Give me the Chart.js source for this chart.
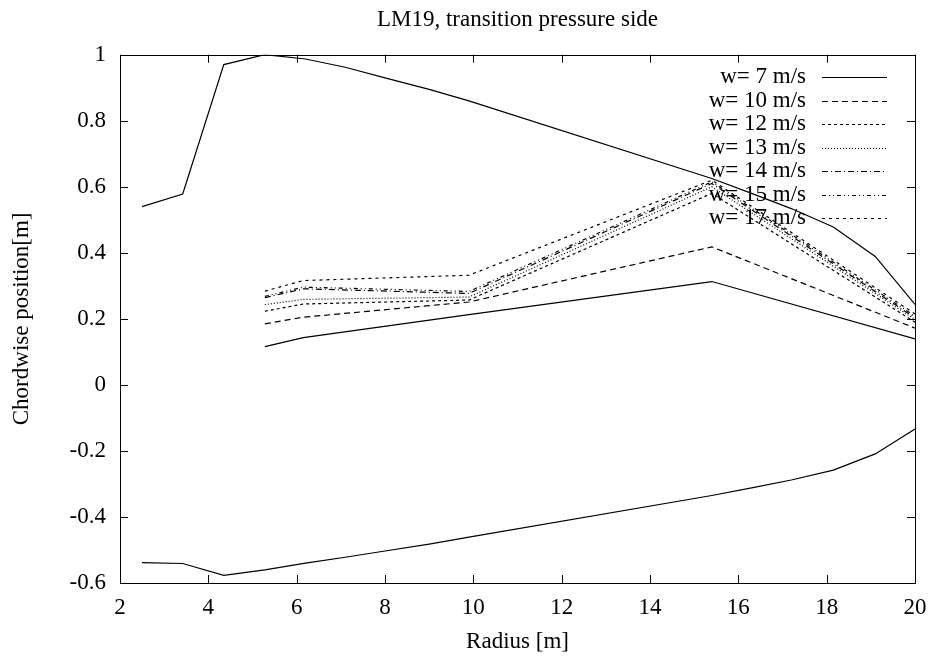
<!DOCTYPE html>
<html>
<head>
<meta charset="utf-8">
<script src="https://cdn.jsdelivr.net/npm/chart.js@4"></script>
<style>
  html, body { margin: 0; padding: 0; background: #fff; }
  #plot { display: block; }
</style>
</head>
<body>
<canvas id="plot" width="931" height="660"></canvas>
<script>
// ---------- data ----------
// blade outline: radius vs leading / trailing edge position
const radiusOutline = [2.5, 3.42, 4.35, 5.28, 6.2, 7.1, 8.0, 9.0, 9.9, 15.4, 16.3, 17.2, 18.15, 19.1, 20];
const outlineTop    = [0.54, 0.578, 0.97, 1.0, 0.987, 0.962, 0.93, 0.895, 0.86, 0.625, 0.58, 0.534, 0.478, 0.389, 0.244];
const outlineBottom = [-0.538, -0.541, -0.577, -0.56, -0.54, -0.522, -0.503, -0.482, -0.461, -0.335, -0.312, -0.288, -0.258, -0.209, -0.134];

// transition position per wind speed
const radiusTrans = [5.28, 6.15, 9.9, 15.4, 20];
const w7  = [0.116, 0.143, 0.213, 0.313, 0.139];
const w10 = [0.185, 0.205, 0.251, 0.418, 0.172];
const w12 = [0.223, 0.245, 0.257, 0.58, 0.19];
const w13 = [0.243, 0.259, 0.266, 0.60, 0.198];
const w14 = [0.264, 0.291, 0.277, 0.61, 0.203];
const w15 = [0.268, 0.296, 0.283, 0.615, 0.208];
const w17 = [0.284, 0.316, 0.332, 0.62, 0.215];

const seriesLabels = ['w= 7 m/s', 'w= 10 m/s', 'w= 12 m/s', 'w= 13 m/s', 'w= 14 m/s', 'w= 15 m/s', 'w= 17 m/s'];
const seriesValues = [w7, w10, w12, w13, w14, w15, w17];
const seriesDash   = [[], [6, 4], [3, 3], [1, 2], [6, 3, 1, 3], [4, 3, 1, 3, 1, 3], [3, 4]];

const xTicks = [2, 4, 6, 8, 10, 12, 14, 16, 18, 20];
const yTicks = [-0.6, -0.4, -0.2, 0, 0.2, 0.4, 0.6, 0.8, 1];

const FONT = 'Liberation Serif, Times New Roman, serif';
const pts = (xs, ys) => xs.map((x, i) => ({ x, y: ys[i] }));

const line = (data, dash, label) => ({
  label, data: data, borderColor: '#000', borderWidth: 1.2, borderDash: dash,
  pointRadius: 0, fill: false, tension: 0, showLine: true,
});

const datasets = [
  line(pts(radiusOutline, outlineTop), [], null),
  line(pts(radiusOutline, outlineBottom), [], null),
  ...seriesValues.map((v, i) => line(pts(radiusTrans, v), seriesDash[i], seriesLabels[i])),
];

// gnuplot-ish frame: border + inward ticks on all four sides
const frame = {
  id: 'frame',
  afterDatasetsDraw(chart) {
    const { ctx, chartArea: a, scales: { x, y } } = chart;
    ctx.save();
    ctx.strokeStyle = '#000';
    ctx.lineWidth = 1;
    ctx.strokeRect(Math.round(a.left) + 0.5, Math.round(a.top) + 0.5,
      Math.round(a.right - a.left), Math.round(a.bottom - a.top));
    ctx.beginPath();
    const L = 8;
    xTicks.forEach(v => {
      const px = Math.round(x.getPixelForValue(v)) + 0.5;
      ctx.moveTo(px, a.bottom); ctx.lineTo(px, a.bottom - L);
      ctx.moveTo(px, a.top); ctx.lineTo(px, a.top + L);
    });
    yTicks.forEach(v => {
      const py = Math.round(y.getPixelForValue(v)) + 0.5;
      ctx.moveTo(a.left, py); ctx.lineTo(a.left + L, py);
      ctx.moveTo(a.right, py); ctx.lineTo(a.right - L, py);
    });
    ctx.stroke();
    ctx.restore();
  }
};

// key in top right: label right-aligned, sample line after it
const key = {
  id: 'key',
  afterDatasetsDraw(chart) {
    const { ctx } = chart;
    ctx.save();
    ctx.font = '23px ' + FONT;
    ctx.fillStyle = '#000';
    ctx.textAlign = 'right';
    ctx.textBaseline = 'middle';
    chart.data.datasets.forEach(ds => {
      if (!ds.label) return;
      const i = seriesLabels.indexOf(ds.label);
      const yy = 77 + i * 23.5;
      ctx.fillText(ds.label, 806, yy);
      ctx.beginPath();
      ctx.setLineDash(ds.borderDash);
      ctx.lineWidth = 1.2;
      ctx.strokeStyle = '#000';
      ctx.moveTo(822, Math.round(yy) + 0.5);
      ctx.lineTo(887, Math.round(yy) + 0.5);
      ctx.stroke();
    });
    ctx.restore();
  }
};

Chart.defaults.font.family = FONT;
Chart.defaults.font.size = 23;
Chart.defaults.color = '#000';

new Chart(document.getElementById('plot'), {
  type: 'scatter',
  data: { datasets },
  plugins: [frame, key],
  options: {
    responsive: false,
    animation: false,
    layout: { padding: { left: 0, right: 16, top: 0, bottom: 0 } },
    plugins: {
      legend: { display: false },
      tooltip: { enabled: false },
      title: {
        display: true, text: 'LM19, transition pressure side',
        fullSize: false,
        font: { size: 23, weight: 'normal' }, color: '#000',
        padding: { top: 6.5, bottom: 20.6 },
      },
    },
    scales: {
      x: {
        type: 'linear', min: 2, max: 20,
        afterBuildTicks: s => { s.ticks = xTicks.map(v => ({ value: v })); },
        afterFit: s => { s.height = 77; s.paddingLeft = 0; s.paddingRight = 0; },
        grid: { display: false, drawTicks: false },
        border: { display: false },
        ticks: { padding: 11.5, maxRotation: 0, callback: v => String(v) },
        title: { display: true, text: 'Radius [m]', padding: { top: 0, bottom: 4 } },
      },
      y: {
        type: 'linear', min: -0.6, max: 1,
        afterBuildTicks: s => { s.ticks = yTicks.map(v => ({ value: v })); },
        afterFit: s => { s.width = 120; s.paddingTop = 0; s.paddingBottom = 0; },
        grid: { display: false, drawTicks: false },
        border: { display: false },
        ticks: { padding: 14, callback: v => String(Math.round(v * 10) / 10) },
        title: { display: true, text: 'Chordwise position[m]', padding: { top: 8, bottom: 0 } },
      },
    },
  },
});
</script>
</body>
</html>
